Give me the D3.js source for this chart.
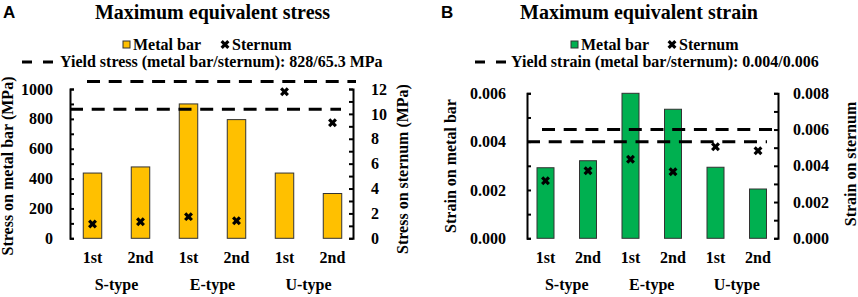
<!DOCTYPE html>
<html><head><meta charset="utf-8">
<script src="https://cdn.jsdelivr.net/npm/d3@7"></script>
<style>
html,body{margin:0;padding:0;background:#fff;}
svg{display:block;}
text{font-family:"Liberation Serif","Times New Roman",serif;font-weight:bold;fill:#000;}
</style></head>
<body>
<svg id="chart" width="858" height="297"></svg>
<script>
// ---- data ----
const categories = ["1st","2nd","1st","2nd","1st","2nd"];
const groups = ["S-type","E-type","U-type"];
const metalStress = [437, 478, 900, 795, 437, 300];
const sternumStress = [1.15, 1.33, 1.74, 1.41, 11.78, 9.29];
const metalStrain = [0.00292, 0.00321, 0.0060, 0.00534, 0.00294, 0.00204];
const sternumStrain = [0.00318, 0.00373, 0.00436, 0.00367, 0.00505, 0.00483];
const stressLeftTicks = [0, 200, 400, 600, 800, 1000];
const stressRightTicks = [0, 2, 4, 6, 8, 10, 12];
const strainLeftTicks = [0, 0.002, 0.004, 0.006];
const strainRightTicks = [0, 0.002, 0.004, 0.006, 0.008];
// dashed reference levels as drawn (axis units)
const stressYieldLevels = [{axis:"right", value:12.6}, {axis:"left", value:864}];
const strainYieldLevels = [{axis:"right", value:0.006}, {axis:"left", value:0.004}];

const svg = d3.select("#chart");

function drawPanel(cfg){
  const g = svg.append("g");
  const x = d3.scaleBand().domain(d3.range(categories.length))
    .range(cfg.xRange).paddingInner(cfg.pad).paddingOuter(cfg.pad/2);
  const yL = d3.scaleLinear().domain(cfg.leftDomain).range([cfg.yBottom, cfg.yTop]);
  const yR = d3.scaleLinear().domain(cfg.rightDomain).range([cfg.yBottom, cfg.yTop]);

  // panel letter
  g.append("text").attr("x", cfg.letterX).attr("y", 17.5)
    .style("font-family", "'Liberation Sans',Arial,sans-serif").style("font-size","17px")
    .text(cfg.letter);
  // title
  g.append("text").attr("x", cfg.titleX).attr("y", 18.5).attr("text-anchor","middle")
    .style("font-size","20px").text(cfg.title);

  // bars
  g.selectAll("rect.bar").data(cfg.bars).join("rect").attr("class","bar")
    .attr("x", (d,i)=>x(i)).attr("width", x.bandwidth())
    .attr("y", d=>yL(d)).attr("height", d=>yL(0)-yL(d))
    .attr("fill", cfg.color).attr("stroke","#333").attr("stroke-width",1);

  // axes
  const fmt = cfg.fmt;
  const axL = d3.axisLeft(yL).tickValues(d3.range(cfg.leftDomain[0], cfg.leftDomain[1]+cfg.leftMinor/2, cfg.leftMinor))
    .tickSizeInner(-4).tickSizeOuter(-4).tickPadding(cfg.padL)
    .tickFormat(d => cfg.leftTicks.some(t=>Math.abs(t-d)<1e-9) ? fmt(d) : "");
  const axR = d3.axisRight(yR).tickValues(d3.range(cfg.rightDomain[0], cfg.rightDomain[1]+cfg.rightMinor/2, cfg.rightMinor))
    .tickSizeInner(-4).tickSizeOuter(-4).tickPadding(cfg.padR)
    .tickFormat(d => cfg.rightTicks.some(t=>Math.abs(t-d)<1e-9) ? fmt(d) : "");
  const gl = g.append("g").attr("transform", `translate(${cfg.axisL},0)`).call(axL);
  const gr = g.append("g").attr("transform", `translate(${cfg.axisR},0)`).call(axR);
  [gl, gr].forEach(a=>{
    a.selectAll("path.domain").attr("stroke","#000").attr("stroke-width",2);
    a.selectAll(".tick line").attr("stroke","#000").attr("stroke-width",2);
    a.selectAll("text").style("font-family","'Liberation Serif','Times New Roman',serif")
      .style("font-weight","bold").style("font-size","16px").attr("fill","#000");
  });

  // dashed reference lines
  cfg.levels.forEach((lv, k)=>{
    const yy = lv.axis === "left" ? yL(lv.value) : yR(lv.value);
    g.append("line").attr("x1", cfg.dashExt[k][0]).attr("x2", cfg.dashExt[k][1])
      .attr("y1", yy).attr("y2", yy).attr("stroke","#000").attr("stroke-width",3)
      .attr("stroke-dasharray","13,8.7");
  });

  // sternum markers
  const sym = d3.symbol().type(d3.symbolCross).size(50);
  g.selectAll("path.mk").data(cfg.marks).join("path").attr("class","mk")
    .attr("d", sym).attr("fill","#000")
    .attr("transform", (d,i)=>`translate(${x(i)+x.bandwidth()/2},${yR(d)}) rotate(45)`);

  // category labels
  g.selectAll("text.cat").data(categories).join("text").attr("class","cat")
    .attr("x",(d,i)=>x(i)+x.bandwidth()/2).attr("y",263).attr("text-anchor","middle")
    .style("font-size","16px").text(d=>d);
  g.selectAll("text.grp").data(groups).join("text").attr("class","grp")
    .attr("x",(d,i)=>(x(2*i)+x(2*i+1))/2 + x.bandwidth()/2).attr("y",290).attr("text-anchor","middle")
    .style("font-size","16px").text(d=>d);

  // axis titles
  g.append("text").attr("transform",`translate(${cfg.titleLX},${cfg.titleLY}) rotate(-90)`)
    .attr("text-anchor","middle").style("font-size","16px").text(cfg.leftTitle);
  g.append("text").attr("transform",`translate(${cfg.titleRX},${cfg.titleRY}) rotate(-90)`)
    .attr("text-anchor","middle").style("font-size","16px").text(cfg.rightTitle);

  // legend
  const L = cfg.legend;
  g.append("rect").attr("x", L.sqX).attr("y", 41).attr("width",7).attr("height",7)
    .attr("fill", cfg.color).attr("stroke","#333").attr("stroke-width",1);
  g.append("text").attr("x", L.sqX+10).attr("y", 50).style("font-size","16px").text("Metal bar");
  g.append("path").attr("d", sym).attr("fill","#000")
    .attr("transform", `translate(${L.xX},44.5) rotate(45)`);
  g.append("text").attr("x", L.xX+7).attr("y", 50).style("font-size","16px").text("Sternum");
  g.append("line").attr("x1", L.dashX).attr("x2", L.dashX+31).attr("y1",62).attr("y2",62)
    .attr("stroke","#000").attr("stroke-width",3).attr("stroke-dasharray","10,11");
  g.append("text").attr("x", L.textX).attr("y", 67).style("font-size","16px").text(L.text);
}

drawPanel({
  letter:"A", letterX:3, title:"Maximum equivalent stress", titleX:212.5,
  xRange:[68.5,356.5], pad:0.615, yTop:89, yBottom:238.3,
  leftDomain:[0,1000], rightDomain:[0,12], leftMinor:100, rightMinor:1,
  leftTicks:stressLeftTicks, rightTicks:stressRightTicks, fmt:d3.format("d"),
  axisL:70, axisR:353, padL:17, padR:18,
  bars:metalStress, marks:sternumStress, color:"#FFC000",
  levels:stressYieldLevels, dashExt:[[87,356],[70,341]],
  leftTitle:"Stress on metal bar (MPa)", titleLX:13, titleLY:166,
  rightTitle:"Stress on sternum (MPa)", titleRX:408, titleRY:169,
  legend:{sqX:123, xX:225, dashX:22, textX:60,
    text:"Yield stress (metal bar/sternum): 828/65.3 MPa"}
});

drawPanel({
  letter:"B", letterX:441, title:"Maximum equivalent strain", titleX:639,
  xRange:[524.25,779.25], pad:0.6, yTop:93.3, yBottom:238.3,
  leftDomain:[0,0.006], rightDomain:[0,0.008], leftMinor:0.001, rightMinor:0.001,
  leftTicks:strainLeftTicks, rightTicks:strainRightTicks, fmt:d3.format(".3f"),
  axisL:527, axisR:778, padL:21, padR:15,
  bars:metalStrain, marks:sternumStrain, color:"#00B050",
  levels:strainYieldLevels, dashExt:[[542,778],[527,767]],
  leftTitle:"Strain on metal bar", titleLX:456, titleLY:166,
  rightTitle:"Strain on sternum", titleRX:856, titleRY:164,
  legend:{sqX:571, xX:672, dashX:475, textX:511,
    text:"Yield strain (metal bar/sternum): 0.004/0.006"}
});
</script>
</body></html>
